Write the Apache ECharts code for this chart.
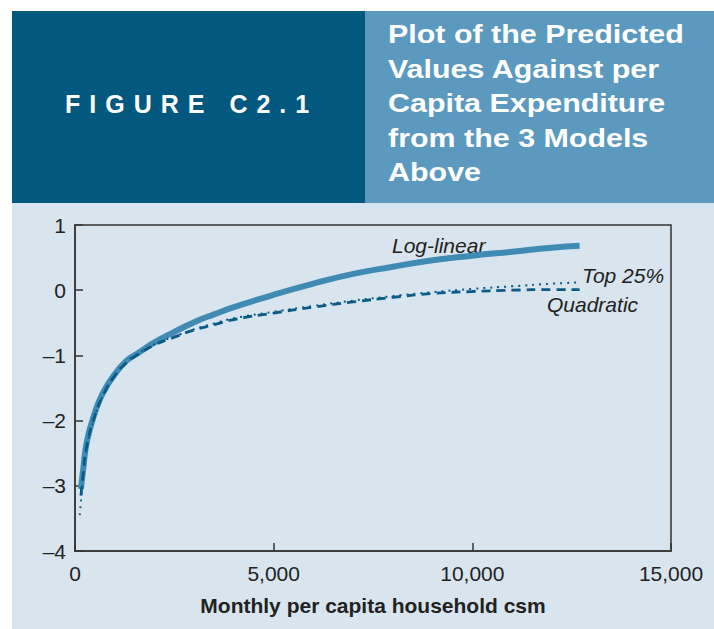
<!DOCTYPE html>
<html>
<head>
<meta charset="utf-8">
<script src="https://cdn.jsdelivr.net/npm/echarts@6/dist/echarts.min.js"></script>
<style>
  body { margin: 0; background: #ffffff; }
  #wrap { position: relative; width: 714px; height: 629px; overflow: hidden; }
  .box { position: absolute; top: 11px; height: 192px; color: #ffffff; font-family: 'Liberation Sans Narrow', 'Arial Narrow', sans-serif; font-weight: bold; }
  #fig { left: 12px; width: 353px; background: #03587f; }
  #fig span { position: absolute; left: 53px; top: 79px; font-size: 25px; letter-spacing: 9px; }
  #title { left: 365px; width: 349px; background: #5b9abe; }
  #title div { position: absolute; left: 23px; top: 6px; font-size: 26px; line-height: 34.5px; white-space: nowrap; transform: scaleX(1.17); transform-origin: 0 0; }
  #panel { position: absolute; left: 12px; top: 203px; width: 702px; height: 426px; background: #d8e5ef; }
  #chart { position: absolute; left: 0; top: 0; width: 714px; height: 629px; }
</style>
</head>
<body>
<div id="wrap">
  <div id="panel"></div>
  <div class="box" id="fig"><span>FIGURE C2.1</span></div>
  <div class="box" id="title"><div>Plot of the Predicted<br>Values Against per<br>Capita Expenditure<br>from the 3 Models<br>Above</div></div>
  <div id="chart"></div>
</div>
<script>
  // monthly per capita expenditure (x) and predicted values
  const expenditure = [150, 200, 300, 500, 700, 1000, 1300, 1600, 2000, 2500, 3000, 3500, 4000, 5000, 6000, 7000, 8000, 9000, 10000, 11000, 12000, 12700];
  const logLinear = [-3.05, -2.78, -2.32, -1.88, -1.58, -1.29, -1.08, -0.96, -0.80, -0.64, -0.49, -0.37, -0.26, -0.07, 0.10, 0.25, 0.36, 0.46, 0.53, 0.59, 0.65, 0.68];
  const quadratic = [-3.15, -2.85, -2.38, -1.92, -1.62, -1.31, -1.11, -0.98, -0.84, -0.72, -0.61, -0.53, -0.45, -0.35, -0.26, -0.18, -0.11, -0.05, -0.02, 0.00, 0.01, 0.01];
  const top25Expenditure = [120, 200, 300, 500, 700, 1000, 1300, 1600, 2000, 2500, 3000, 3500, 4000, 5000, 6000, 7000, 8000, 9000, 10000, 11000, 12000, 12700];
  const top25 = [-3.45, -2.90, -2.40, -1.93, -1.62, -1.31, -1.10, -0.97, -0.83, -0.71, -0.60, -0.51, -0.43, -0.33, -0.24, -0.16, -0.09, -0.03, 0.02, 0.06, 0.10, 0.12];
  const curveLabels = [
    { text: 'Log-linear', x: 392, y: 245 },
    { text: 'Top 25%', x: 582, y: 275 },
    { text: 'Quadratic', x: 547, y: 304 }
  ];

  const font = "'Liberation Sans Narrow', 'Arial Narrow', sans-serif";
  const pairs = (xs, ys) => xs.map((x, i) => [x, ys[i]]);
  const dash = (v) => String(v).replace('-', '\u2013');

  const chart = echarts.init(document.getElementById('chart'), null, { renderer: 'svg' });

  chart.setOption({
    animation: false,
    backgroundColor: 'transparent',
    grid: {
      left: 75, top: 225, right: 43, bottom: 78,
      show: true, borderColor: '#333333', borderWidth: 1.5, backgroundColor: 'transparent'
    },
    xAxis: {
      type: 'value',
      min: 0, max: 15000, interval: 5000,
      name: 'Monthly per capita household csm',
      nameLocation: 'middle',
      nameGap: 44,
      nameTextStyle: { fontFamily: font, fontWeight: 'bold', fontSize: 21, color: '#222222' },
      axisLine: { onZero: false, lineStyle: { color: '#333333', width: 1.5 } },
      axisTick: { inside: true, length: 8, lineStyle: { color: '#333333', width: 1.5 } },
      axisLabel: {
        margin: 12, fontFamily: font, fontSize: 21, color: '#222222',
        formatter: (v) => v.toLocaleString('en-US')
      },
      splitLine: { show: false }
    },
    yAxis: {
      type: 'value',
      min: -4, max: 1, interval: 1,
      axisLine: { show: true, onZero: false, lineStyle: { color: '#333333', width: 1.5 } },
      axisTick: { show: true, inside: true, length: 8, lineStyle: { color: '#333333', width: 1.5 } },
      axisLabel: { margin: 9, fontFamily: font, fontSize: 21, color: '#222222', formatter: dash },
      splitLine: { show: false }
    },
    series: [
      {
        name: 'Log-linear', type: 'line', smooth: true, showSymbol: false,
        lineStyle: { color: '#3f8bb4', width: 6 },
        data: pairs(expenditure, logLinear)
      },
      {
        name: 'Quadratic', type: 'line', smooth: true, showSymbol: false,
        lineStyle: { color: '#0b5b86', width: 2.8, type: [9, 6] },
        data: pairs(expenditure, quadratic)
      },
      {
        name: 'Top 25%', type: 'line', smooth: true, showSymbol: false,
        lineStyle: { color: '#0b5b86', width: 2, type: [2, 5] },
        data: pairs(top25Expenditure, top25)
      }
    ],
    graphic: curveLabels.map((l) => ({
      type: 'text',
      x: l.x, y: l.y,
      style: {
        text: l.text, fill: '#222222', fontFamily: font, fontStyle: 'italic',
        fontSize: 21, verticalAlign: 'middle', align: 'left'
      }
    }))
  });
</script>
</body>
</html>
